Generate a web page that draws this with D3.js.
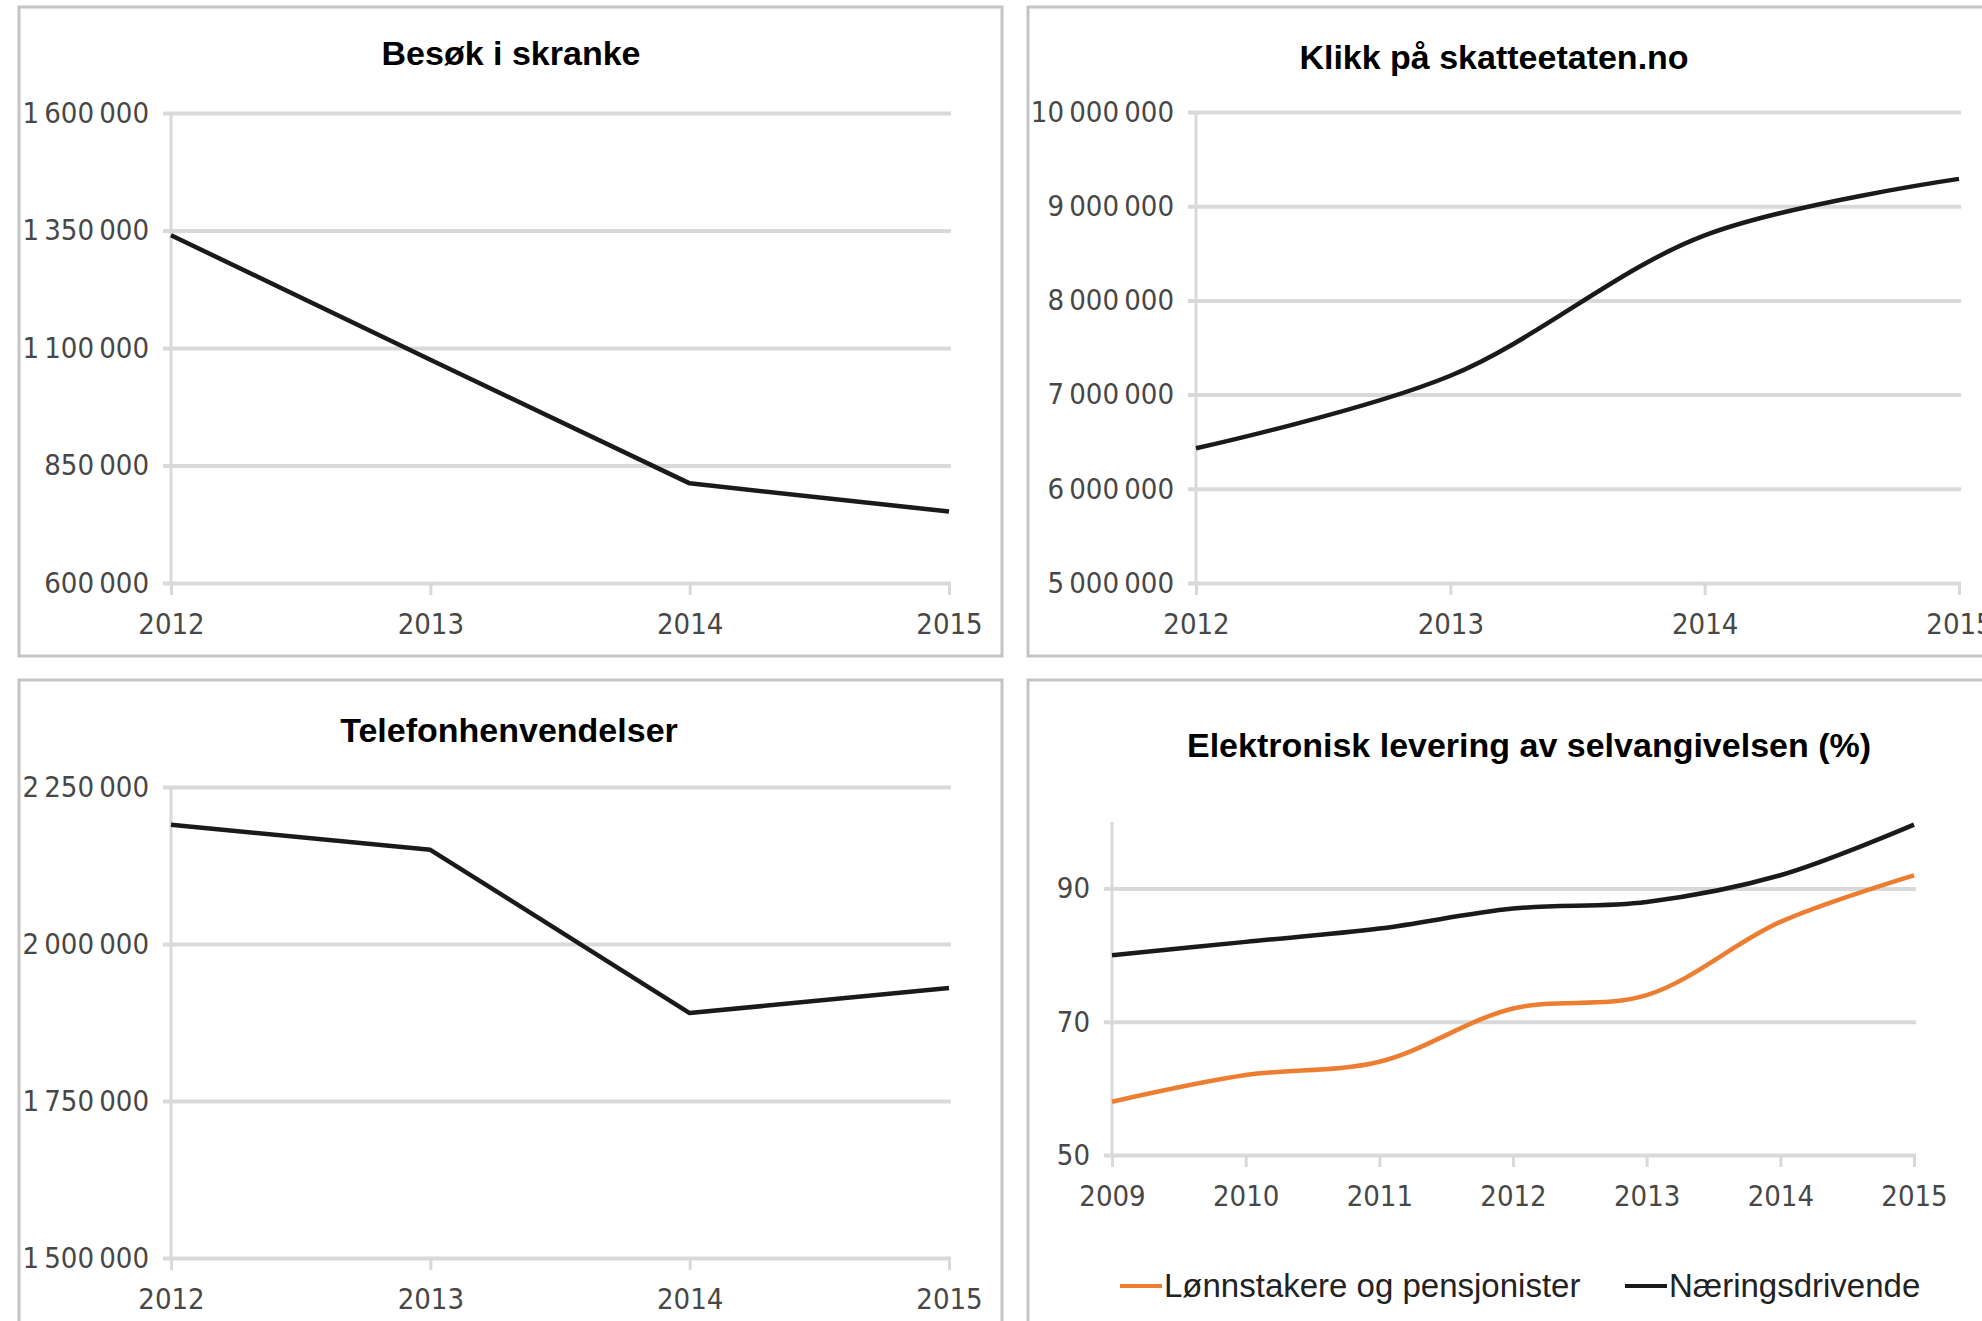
<!DOCTYPE html>
<html>
<head>
<meta charset="utf-8">
<script src="https://cdn.jsdelivr.net/npm/d3@7"></script>
<style>
  body { margin: 0; background: #fff; }
  svg { display: block; }
  .tick text { font-family: 'Liberation Sans Narrow', 'DejaVu Sans Condensed', sans-serif; font-size: 29px; fill: #474747; }
  .title { font-family: 'Liberation Sans', Arial, sans-serif; font-weight: bold; font-size: 34px; fill: #000; }
  .legend text { font-family: 'Liberation Sans', Arial, sans-serif; font-size: 33px; fill: #222; }
</style>
</head>
<body>
<div id="chart"></div>
<script>
W = 1982;
H = 1321;

// data
years4 = ["2012", "2013", "2014", "2015"];
years7 = ["2009", "2010", "2011", "2012", "2013", "2014", "2015"];

besokValues = [1340000, 1075000, 812000, 752000];
besokTicks = [600000, 850000, 1100000, 1350000, 1600000];

klikkValues = [6430000, 7200000, 8690000, 9290000];
klikkTicks = [5000000, 6000000, 7000000, 8000000, 9000000, 10000000];

telefonValues = [2190000, 2150000, 1890000, 1930000];
telefonTicks = [1500000, 1750000, 2000000, 2250000];

lonnValues = [58, 62, 64, 72, 74, 85, 92];
naeringValues = [80, 82, 84, 87, 88, 92, 99.6];
elektroTicks = [50, 70, 90];

seriesNames = ["Lønnstakere og pensjonister", "Næringsdrivende"];
seriesColors = ["#ed7d31", "#1a1a1a"];

// norwegian style thousands: 1 600 000
nb = d3.formatLocale({decimal: ",", thousands: "\u2009", grouping: [3], currency: ["", " kr"]});
fmt = nb.format(",d");

var svg = d3.select("#chart").append("svg")
	.attr("width", W)
	.attr("height", H);

// panel frames
var frames = [
	{x: 19, y: 7, w: 983, h: 649},
	{x: 1028, y: 7, w: 980, h: 649},
	{x: 19, y: 680, w: 983, h: 660},
	{x: 1028, y: 680, w: 980, h: 660}
];
svg.selectAll("rect.frame").data(frames)
	.enter().append("rect")
	.attr("class", "frame")
	.attr("x", function(d) { return d.x; })
	.attr("y", function(d) { return d.y; })
	.attr("width", function(d) { return d.w; })
	.attr("height", function(d) { return d.h; })
	.style("fill", "none")
	.style("stroke", "#c4c4c4")
	.style("stroke-width", 3);

function drawPanel(p) {
	var g = svg.append("g");

	var x = d3.scalePoint()
		.domain(p.cats)
		.range([p.x0, p.x1]);
	var y = d3.scaleLinear()
		.domain(p.domain)
		.range([p.yBottom, p.yTop]);

	// gridlines + y labels
	var yAxis = d3.axisLeft(y)
		.tickValues(p.ticks)
		.tickFormat(p.format)
		.tickSizeOuter(0)
		.tickPadding(16);
	var yG = g.append("g")
		.attr("transform", "translate(" + p.x0 + ",0)")
		.call(yAxis);
	yG.select(".domain")
		.attr("d", "M0," + p.yBottom + "V" + p.yTop)
		.style("stroke", "#d9d9d9")
		.style("stroke-width", 3);
	yG.selectAll(".tick line")
		.attr("x1", -8)
		.attr("x2", p.x1 - p.x0 + 2)
		.style("stroke", "#d9d9d9")
		.style("stroke-width", 4);

	// x axis ticks and labels
	var xAxis = d3.axisBottom(x)
		.tickSizeInner(12)
		.tickSizeOuter(0)
		.tickPadding(18);
	var xG = g.append("g")
		.attr("transform", "translate(0," + p.yBottom + ")")
		.call(xAxis);
	xG.select(".domain").remove();
	xG.selectAll(".tick line")
		.style("stroke", "#d9d9d9")
		.style("stroke-width", 3);

	g.append("text")
		.attr("class", "title")
		.attr("x", p.titleX)
		.attr("y", p.titleY)
		.attr("text-anchor", "middle")
		.text(p.title);

	p.series.forEach(function(s) {
		var line = d3.line()
			.x(function(d, i) { return x(p.cats[i]); })
			.y(function(d) { return y(d); })
			.curve(p.smooth ? d3.curveCatmullRom.alpha(0.5) : d3.curveLinear);
		g.append("path")
			.datum(s.values)
			.attr("d", line)
			.style("fill", "none")
			.style("stroke", s.color)
			.style("stroke-width", 4.5)
			.style("stroke-linejoin", "round");
	});
}

drawPanel({
	title: "Besøk i skranke", titleX: 511, titleY: 65,
	cats: years4, x0: 171, x1: 949,
	domain: [600000, 1600000], ticks: besokTicks, format: fmt,
	yTop: 113, yBottom: 583,
	series: [{values: besokValues, color: "#1a1a1a"}]
});

drawPanel({
	title: "Klikk på skatteetaten.no", titleX: 1494, titleY: 69,
	cats: years4, x0: 1196, x1: 1959,
	domain: [5000000, 10000000], ticks: klikkTicks, format: fmt,
	yTop: 112, yBottom: 583, smooth: true,
	series: [{values: klikkValues, color: "#1a1a1a"}]
});

drawPanel({
	title: "Telefonhenvendelser", titleX: 509, titleY: 742,
	cats: years4, x0: 171, x1: 949,
	domain: [1500000, 2250000], ticks: telefonTicks, format: fmt,
	yTop: 787, yBottom: 1258,
	series: [{values: telefonValues, color: "#1a1a1a"}]
});

drawPanel({
	title: "Elektronisk levering av selvangivelsen (%)", titleX: 1529, titleY: 757,
	cats: years7, x0: 1112, x1: 1914,
	domain: [50, 100], ticks: elektroTicks, format: d3.format("d"),
	yTop: 822, yBottom: 1155, smooth: true,
	series: [{values: lonnValues, color: seriesColors[0]},
	         {values: naeringValues, color: seriesColors[1]}]
});

// legend
var legend = svg.append("g").attr("class", "legend")
	.attr("transform", "translate(1120,1286)");
var legX = [0, 505];
seriesNames.forEach(function(name, i) {
	var lg = legend.append("g").attr("transform", "translate(" + legX[i] + ",0)");
	lg.append("line")
		.attr("x1", 0).attr("x2", 42)
		.attr("y1", 0).attr("y2", 0)
		.style("stroke", seriesColors[i])
		.style("stroke-width", 4);
	lg.append("text")
		.attr("x", 44)
		.attr("y", 11)
		.text(name);
});
</script>
</body>
</html>
